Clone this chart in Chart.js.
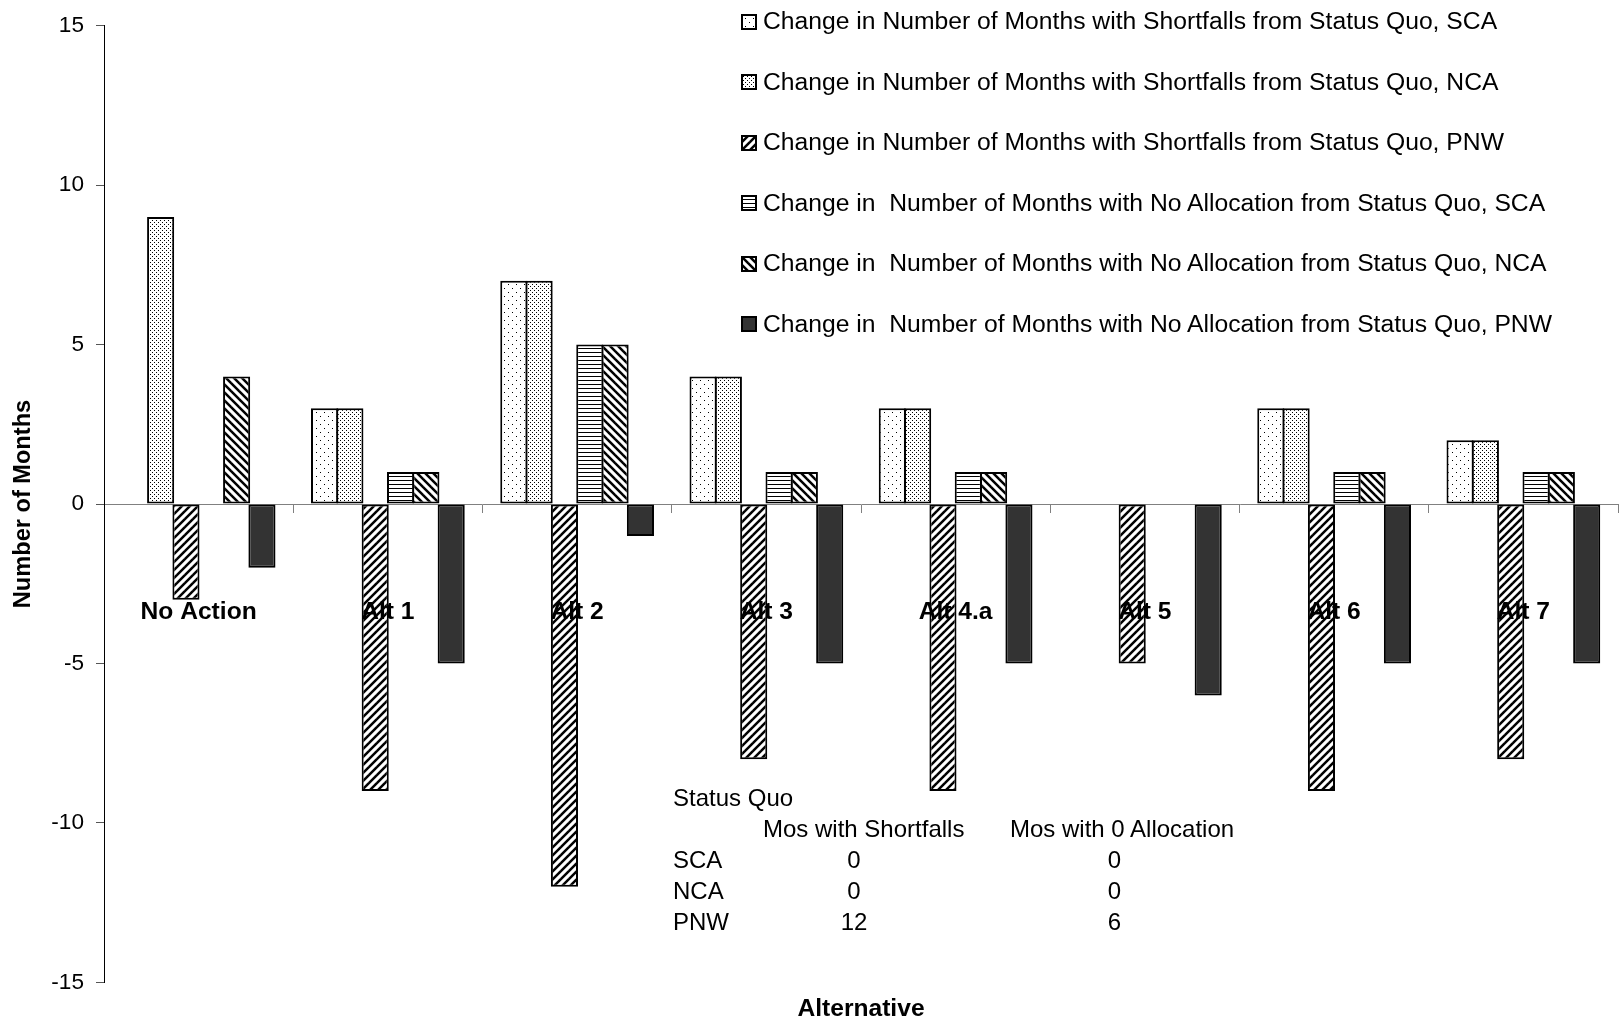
<!DOCTYPE html>
<html><head><meta charset="utf-8">
<script src="https://cdn.jsdelivr.net/npm/chart.js@4"></script>
<style>
html,body{margin:0;padding:0;background:#fff;overflow:hidden;}
#wrap{position:relative;width:1621px;height:1029px;font-family:"Liberation Sans",Arial,sans-serif;color:#000;}
#c{position:absolute;left:0;top:0;}
.lg{position:absolute;left:741px;height:20px;display:flex;align-items:center;white-space:pre;font-size:24.7px;line-height:1;}
.lg canvas{margin-right:6px;flex:none;}
.t{position:absolute;font-size:24px;line-height:1;white-space:pre;}
</style></head><body>
<div id="wrap"><canvas id="c" width="1621" height="1029"></canvas><div id="legend"></div><div id="sq"></div></div>
<script>
// ---- data ----
const categories = ['No Action','Alt 1','Alt 2','Alt 3','Alt 4.a','Alt 5','Alt 6','Alt 7'];
const seriesNames = [
  'Change in Number of Months with Shortfalls from Status Quo, SCA',
  'Change in Number of Months with Shortfalls from Status Quo, NCA',
  'Change in Number of Months with Shortfalls from Status Quo, PNW',
  'Change in  Number of Months with No Allocation from Status Quo, SCA',
  'Change in  Number of Months with No Allocation from Status Quo, NCA',
  'Change in  Number of Months with No Allocation from Status Quo, PNW'
];
const shortfallSCA = [0, 3, 7, 4, 3, 0, 3, 2];
const shortfallNCA = [9, 3, 7, 4, 3, 0, 3, 2];
const shortfallPNW = [-3, -9, -12, -8, -9, -5, -9, -8];
const noAllocSCA = [0, 1, 5, 1, 1, 0, 1, 1];
const noAllocNCA = [4, 1, 5, 1, 1, 0, 1, 1];
const noAllocPNW = [-2, -5, -1, -5, -5, -6, -5, -5];
const yMin = -15, yMax = 15, yStep = 5;
const sqTitle = 'Status Quo';
const sqHeaders = ['Mos with Shortfalls', 'Mos with 0 Allocation'];
const sqRegions = ['SCA', 'NCA', 'PNW'];
const sqShortfalls = [0, 0, 12];
const sqNoAlloc = [0, 0, 6];

// ---- patterns ----
const FONT = '"Liberation Sans", Arial, sans-serif';
function tile(w, h, draw) {
  const c = document.createElement('canvas'); c.width = w; c.height = h;
  const x = c.getContext('2d');
  x.fillStyle = '#fff'; x.fillRect(0, 0, w, h);
  x.fillStyle = '#000'; x.strokeStyle = '#000';
  draw(x); return c;
}
const tiles = [
  tile(8, 8, x => { x.fillRect(0, 0, 1, 1); x.fillRect(4, 4, 1, 1); }),
  tile(4, 4, x => { x.fillRect(0, 0, 1, 1); x.fillRect(2, 2, 1, 1); }),
  tile(8, 8, x => { x.lineWidth = 2.5; for (let k = -1; k <= 1; k++) { x.beginPath(); x.moveTo(-2 + 8 * k, 10); x.lineTo(10 + 8 * k, -2); x.stroke(); } }),
  tile(4, 4, x => { x.fillRect(0, 0, 4, 1); }),
  tile(8, 8, x => { x.lineWidth = 2.5; for (let k = -1; k <= 1; k++) { x.beginPath(); x.moveTo(-2 + 8 * k, -2); x.lineTo(10 + 8 * k, 10); x.stroke(); } }),
  null
];
const ctx = document.getElementById('c').getContext('2d');
const fills = tiles.map(t => t ? ctx.createPattern(t, 'repeat') : '#333333');

const seriesValues = [shortfallSCA, shortfallNCA, shortfallPNW, noAllocSCA, noAllocNCA, noAllocPNW];
const datasets = seriesValues.map((vals, i) => ({
  label: seriesNames[i],
  data: vals,
  backgroundColor: fills[i],
  borderColor: '#000',
  borderWidth: 2,
  borderSkipped: false,
  barPercentage: 1.07,
  categoryPercentage: 0.803
}));

const noSidePad = s => { s.paddingLeft = 0; s.paddingRight = 0; };

const chart = new Chart(ctx, {
  type: 'bar',
  data: { labels: categories, datasets },
  options: {
    responsive: false,
    animation: false,
    devicePixelRatio: 1,
    events: [],
    layout: { padding: { top: 21, right: 3, left: 0, bottom: 0 } },
    plugins: { legend: { display: false }, tooltip: { enabled: false } },
    scales: {
      x: {
        type: 'category', position: { y: 0 }, offset: true,
        afterFit: noSidePad,
        grid: { offset: true, drawOnChartArea: false, drawTicks: true, tickLength: 8, color: '#808080', lineWidth: 1 },
        border: { display: true, color: '#808080', width: 1 },
        ticks: { z: 1, font: { family: FONT, size: 24.6, weight: 'bold' }, color: '#000', padding: 85, maxRotation: 0, autoSkip: false }
      },
      x2: {
        type: 'category', position: 'bottom', display: true,
        afterFit: noSidePad,
        grid: { display: false, drawTicks: false }, border: { display: false },
        ticks: { display: false, padding: 0 },
        title: { display: true, text: 'Alternative', color: '#000', font: { family: FONT, size: 24.6, weight: 'bold' }, padding: { top: 12, bottom: 5 } }
      },
      y: {
        position: 'left', min: yMin, max: yMax,
        afterFit: s => { s.width = 104; },
        ticks: { stepSize: yStep, font: { family: FONT, size: 22.6 }, color: '#000', padding: 12, callback: v => String(v) },
        grid: { drawOnChartArea: false, drawTicks: true, tickLength: 8, color: '#555' },
        border: { color: '#000', width: 1 },
        title: { display: true, text: 'Number of Months', color: '#000', font: { family: FONT, size: 23.6, weight: 'bold' }, padding: { top: 9, bottom: 0 } }
      }
    }
  }
});

// ---- legend (HTML, from datasets) ----
const legend = document.getElementById('legend');
chart.data.datasets.forEach((ds, i) => {
  const row = document.createElement('div');
  row.className = 'lg';
  row.style.top = (21.7 + i * 60.5 - 10) + 'px';
  const sw = document.createElement('canvas'); sw.width = 16; sw.height = 16;
  const sx = sw.getContext('2d');
  sx.fillStyle = tiles[i] ? sx.createPattern(tiles[i], 'repeat') : ds.backgroundColor;
  sx.fillRect(0, 0, 16, 16);
  sx.strokeStyle = '#000'; sx.lineWidth = 2; sx.strokeRect(1, 1, 14, 14);
  row.appendChild(sw);
  const sp = document.createElement('span'); sp.textContent = ds.label;
  row.appendChild(sp);
  legend.appendChild(row);
});

// ---- status quo table ----
const sq = document.getElementById('sq');
function put(text, x, y, center) {
  const s = document.createElement('div'); s.className = 't'; s.textContent = text;
  s.style.left = x + 'px'; s.style.top = y + 'px';
  s.style.transform = center ? 'translate(-50%,-50%)' : 'translateY(-50%)';
  sq.appendChild(s);
}
put(sqTitle, 673, 798);
put(sqHeaders[0], 763, 829);
put(sqHeaders[1], 1010, 829);
sqRegions.forEach((r, i) => {
  const y = 860 + i * 31;
  put(r, 673, y);
  put(String(sqShortfalls[i]), 854, y, true);
  put(String(sqNoAlloc[i]), 1114.5, y, true);
});
</script></body></html>
